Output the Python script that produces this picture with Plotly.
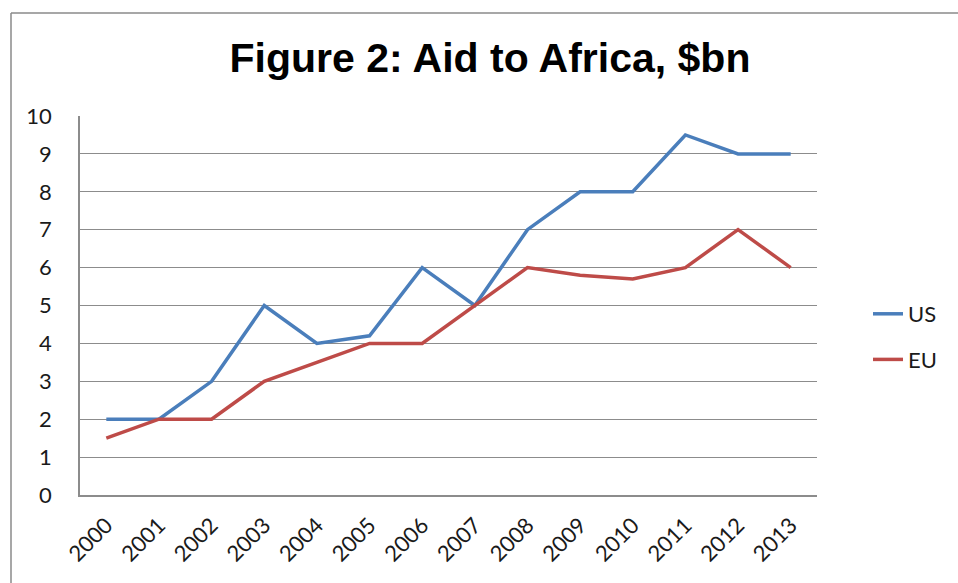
import plotly.graph_objects as go

# Aid to Africa, $bn, by year
years = ["2000", "2001", "2002", "2003", "2004", "2005", "2006",
         "2007", "2008", "2009", "2010", "2011", "2012", "2013"]
us_aid = [2.0, 2.0, 3.0, 5.0, 4.0, 4.2, 6.0, 5.0, 7.0, 8.0, 8.0, 9.5, 9.0, 9.0]
eu_aid = [1.5, 2.0, 2.0, 3.0, 3.5, 4.0, 4.0, 5.0, 6.0, 5.8, 5.7, 6.0, 7.0, 6.0]
y_ticks = list(range(0, 11))

W, H = 958, 583
M_L, M_R, M_T, M_B = 80, 141, 116, 88
plot_w = W - M_L - M_R
plot_h = H - M_T - M_B


def px_x(p):
    return (p - M_L) / plot_w


def px_y(p):
    return (H - M_B - p) / plot_h


GRID = "#8c8c8c"
FONT = "Lato"
TXT = "#1a1a1a"

fig = go.Figure()
fig.add_trace(go.Scatter(x=years, y=us_aid, name="US", mode="lines",
                         legendgroup="us",
                         line=dict(color="#4a7ebb", width=3.5)))
fig.add_trace(go.Scatter(x=years, y=eu_aid, name="EU", mode="lines",
                         legendgroup="eu",
                         line=dict(color="#be4b48", width=3.5)))

# chart-area frame (left and top edges)
frame = dict(type="line", xref="paper", yref="paper",
             line=dict(color="#8a8a8a", width=1.5))
fig.add_shape(**frame, x0=px_x(11), x1=px_x(11), y0=px_y(13), y1=px_y(600))
fig.add_shape(**frame, x0=px_x(11), x1=px_x(975), y0=px_y(13), y1=px_y(13))

fig.update_layout(
    width=W, height=H,
    margin=dict(l=M_L, r=M_R, t=M_T, b=M_B),
    paper_bgcolor="white", plot_bgcolor="white",
    font=dict(family=FONT, size=22, color=TXT),
    title=dict(text="<b>Figure 2: Aid to Africa, $bn</b>",
               font=dict(family="Liberation Sans", size=41, color="#000000"),
               x=490 / W, xref="container", xanchor="center",
               y=1 - 58 / H, yref="container", yanchor="middle"),
    showlegend=True,
    legend=dict(x=px_x(868), xanchor="left", y=px_y(293), yanchor="top",
                font=dict(family=FONT, size=22, color=TXT),
                tracegroupgap=14, bgcolor="rgba(0,0,0,0)"),
    xaxis=dict(type="category", range=[-0.5, len(years) - 0.5],
               tickangle=-45, showgrid=False, showline=True,
               linecolor=GRID, linewidth=1.5, ticks="",
               ticklabelstandoff=7,
               tickfont=dict(family=FONT, size=22, color=TXT)),
    yaxis=dict(range=[0, 10], tickvals=y_ticks, showgrid=True,
               gridcolor=GRID, gridwidth=1.2, zeroline=False,
               showline=True, linecolor=GRID, linewidth=1.5, ticks="",
               ticklabelstandoff=22,
               tickfont=dict(family=FONT, size=22, color=TXT)),
)

fig.write_html("out.html")
